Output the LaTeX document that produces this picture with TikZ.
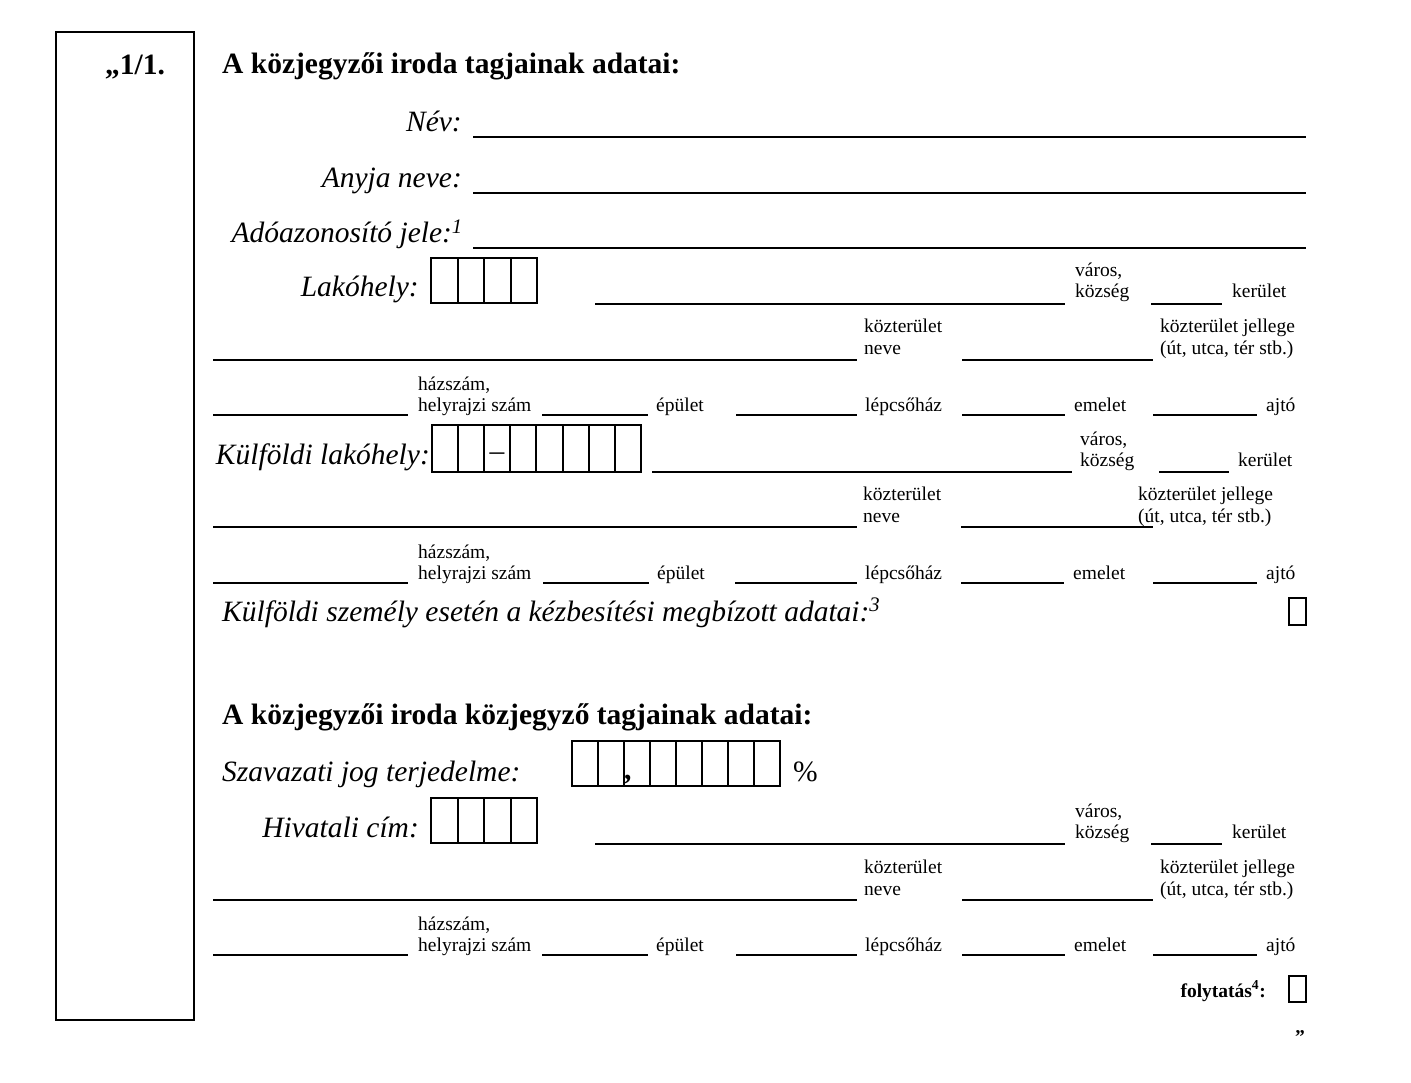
\documentclass[tikz,border=0pt]{standalone}
\usepackage{fontspec}
\setmainfont{Liberation Serif}
\newcommand\bigfont{\fontsize{29.5}{34}\selectfont}
\newcommand\smallfont{\fontsize{19.5}{22}\selectfont}
\begin{document}
\begin{tikzpicture}[x=1pt,y=-1pt,
  every node/.style={inner sep=0pt},
  lbl/.style={font=\bigfont\itshape,anchor=base east},
  ttl/.style={font=\bigfont\bfseries,anchor=base west},
  sm/.style={font=\smallfont,anchor=base west},
  rule/.style={line width=2.2pt},
  cell/.style={draw,line width=2pt},
  chk/.style={draw,line width=2.8pt}]

\useasboundingbox (0,0) rectangle (1411,1083);

% left column
\draw[line width=2pt] (56,32) rectangle (194,1020);
\node[ttl] (num) at (105,75) {„1/1.};

% members
\node[ttl] (title1) at (222,74) {A közjegyzői iroda tagjainak adatai:};
\node[lbl] (nev) at (462,132) {Név:};
\node[lbl] (anyja) at (462,188) {Anyja neve:};
\node[lbl] (adoaz) at (463,243) {Adóazonosító jele:\textsuperscript{1}};
\foreach \y in {137,193,248}
  \draw[rule] (473,\y) -- (1306,\y);

% Lakohely and Hivatali cim
\foreach \dy/\lab/\nm in {0/Lakóhely:/lak,540/Hivatali cím:/hiv}{
\begin{scope}[shift={(0,\dy)}]
\node[lbl] (\nm) at (419,297) {\lab};
\foreach \i in {0,...,3}
  \draw[cell] (431+26.5*\i,258) rectangle ++(26.5,45);
\draw[rule] (595,304) -- (1065,304);
\node[sm] (\nm-varos) at (1075,277) {város,};
\node[sm] (\nm-kozseg) at (1075,298) {község};
\draw[rule] (1151,304) -- (1222,304);
\node[sm] (\nm-kerulet) at (1232,298) {kerület};
\draw[rule] (213,360) -- (857,360);
\node[sm] (\nm-kt) at (864,333) {közterület};
\node[sm] (\nm-neve) at (864,355) {neve};
\draw[rule] (962,360) -- (1153,360);
\node[sm] (\nm-jell) at (1160,333) {közterület jellege};
\node[sm] (\nm-ut) at (1160,355) {(út, utca, tér stb.)};
\draw[rule] (213,415) -- (408,415);
\node[sm] (\nm-hsz) at (418,390) {házszám,};
\node[sm] (\nm-hrsz) at (418,411) {helyrajzi szám};
\draw[rule] (542,415) -- (648,415);
\node[sm] (\nm-epulet) at (656,411) {épület};
\draw[rule] (736,415) -- (857,415);
\node[sm] (\nm-lh) at (865,411) {lépcsőház};
\draw[rule] (962,415) -- (1065,415);
\node[sm] (\nm-emelet) at (1074,411) {emelet};
\draw[rule] (1153,415) -- (1257,415);
\node[sm] (\nm-ajto) at (1266,411) {ajtó};
\end{scope}
}

% Kulfoldi lakohely
\node[lbl] (kulf) at (430,464) {Külföldi lakóhely:};
\foreach \i in {0,...,7}
  \draw[cell] (431.5+26.2*\i,425) rectangle ++(26.2,47);
\node[font=\bigfont,anchor=base] (dash) at (497,460) {–};
\draw[rule] (652,472) -- (1072,472);
\node[sm] (kulf-varos) at (1080,445) {város,};
\node[sm] (kulf-kozseg) at (1080,466) {község};
\draw[rule] (1159,472) -- (1229,472);
\node[sm] (kulf-kerulet) at (1238,466) {kerület};
\draw[rule] (213,527) -- (857,527);
\node[sm] (kulf-kt) at (863,500) {közterület};
\node[sm] (kulf-neve) at (863,522) {neve};
\draw[rule] (961,527) -- (1153,527);
\node[sm] (kulf-jell) at (1138,500) {közterület jellege};
\node[sm] (kulf-ut) at (1138,522) {(út, utca, tér stb.)};
\draw[rule] (213,583) -- (408,583);
\node[sm] (kulf-hsz) at (418,558) {házszám,};
\node[sm] (kulf-hrsz) at (418,579) {helyrajzi szám};
\draw[rule] (543,583) -- (649,583);
\node[sm] (kulf-epulet) at (657,579) {épület};
\draw[rule] (735,583) -- (857,583);
\node[sm] (kulf-lh) at (865,579) {lépcsőház};
\draw[rule] (961,583) -- (1064,583);
\node[sm] (kulf-emelet) at (1073,579) {emelet};
\draw[rule] (1153,583) -- (1257,583);
\node[sm] (kulf-ajto) at (1266,579) {ajtó};

\node[lbl,anchor=base west] (kezb) at (222,621) {Külföldi személy esetén a kézbesítési megbízott adatai:\textsuperscript{3}};
\draw[chk] (1289,598) rectangle (1306,625);

% notary members
\node[ttl] (title2) at (222,724) {A közjegyzői iroda közjegyző tagjainak adatai:};
\node[lbl,anchor=base west] (szav) at (222,781) {Szavazati jog terjedelme:};
\foreach \i in {0,...,7}
  \draw[cell] (571.5+26.1*\i,741) rectangle ++(26.1,45);
\node[font=\bigfont\bfseries,anchor=base west] (comma) at (624,779) {,};
\node[font=\bigfont,anchor=base west] (pct) at (793,781) {\%};

% continuation
\node[font=\fontsize{19.5}{22}\selectfont\bfseries,anchor=base east] (folyt) at (1266,997) {folytatás\textsuperscript{4}:};
\draw[chk] (1289,976) rectangle (1306,1002);
\node[font=\smallfont\bfseries,anchor=base west] (zaro) at (1295,1043) {”};

\end{tikzpicture}
\end{document}
